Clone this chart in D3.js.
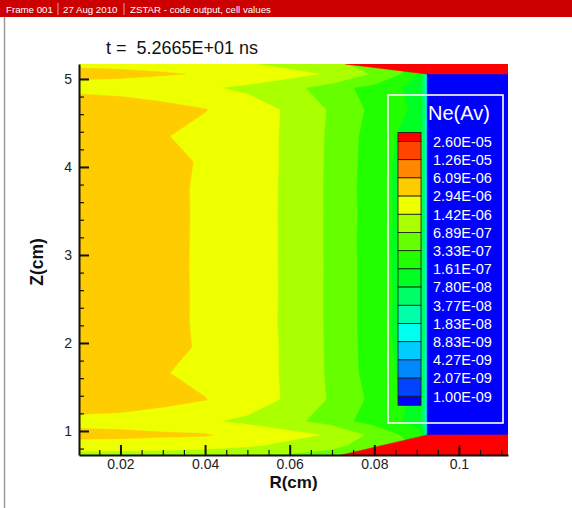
<!DOCTYPE html>
<html>
<head>
<meta charset="utf-8">
<script src="https://cdn.jsdelivr.net/npm/d3@7"></script>
<style>
  html, body { margin: 0; padding: 0; background: #fff; }
  svg { display: block; font-family: "Liberation Sans", Arial, Helvetica, sans-serif; }
</style>
</head>
<body>
<svg id="chart" width="572" height="508"></svg>
<script>
// ---- mesh nodes (cm) ----
const rNodes = [0.0102, 0.02, 0.03, 0.04, 0.05, 0.06, 0.07, 0.08, 0.0905, 0.0925];
// z rows, listed from the top of the domain downwards
const zNodes = [5.17, 5.057, 4.9, 4.65, 4.35, 4.06, 3.75, 3.45, 3.15, 2.85,
                2.55, 2.25, 1.95, 1.66, 1.36, 1.11, 0.955, 0.84, 0.727];

// electron density Ne (units of 1e-6), one row per zNodes entry, one column per rNodes entry
const neRows = [
  [2.72, 2.60, 2.30, 1.90, 1.50, 1.10, 0.80, 0.50, 0.30, 0.20],
  [3.27, 3.25, 3.10, 2.80, 2.20, 1.70, 1.30, 0.60, 0.15, 0.0005],
  [2.50, 2.30, 1.95, 1.55, 1.20, 0.85, 0.42, 0.25, 0.11, 0.0005],
  [4.07, 3.90, 3.50, 3.00, 2.00, 1.25, 0.60, 0.25, 0.13, 0.0005],
  [4.30, 4.00, 3.05, 2.40, 1.90, 1.25, 0.56, 0.20, 0.12, 0.0005],
  [4.40, 4.20, 3.30, 2.80, 1.90, 1.25, 0.55, 0.19, 0.12, 0.0005],
  [4.50, 4.30, 3.60, 2.55, 1.88, 1.24, 0.54, 0.186, 0.12, 0.0005],
  [4.50, 4.30, 3.62, 2.56, 1.92, 1.22, 0.55, 0.19, 0.12, 0.0005],
  [4.50, 4.30, 3.60, 2.55, 1.90, 1.23, 0.54, 0.185, 0.12, 0.0005],
  [4.50, 4.30, 3.58, 2.55, 1.88, 1.24, 0.55, 0.186, 0.12, 0.0005],
  [4.50, 4.30, 3.60, 2.56, 1.92, 1.23, 0.54, 0.19, 0.12, 0.0005],
  [4.50, 4.30, 3.60, 2.55, 1.90, 1.22, 0.55, 0.186, 0.12, 0.0005],
  [4.40, 4.20, 3.35, 2.75, 1.90, 1.25, 0.55, 0.19, 0.12, 0.0005],
  [4.30, 4.00, 3.05, 2.40, 1.90, 1.25, 0.56, 0.20, 0.12, 0.0005],
  [4.07, 3.90, 3.50, 3.00, 2.00, 1.25, 0.60, 0.25, 0.13, 0.0005],
  [2.44, 2.30, 1.95, 1.55, 1.20, 0.85, 0.42, 0.25, 0.11, 0.0005],
  [3.40, 3.35, 3.20, 3.10, 2.20, 1.70, 1.30, 0.50, 0.20, 0.0005],
  [2.30, 2.25, 2.10, 1.90, 1.60, 1.20, 0.80, 0.50, 0.30, 0.20],
  [0.90, 0.88, 0.85, 0.75, 0.68, 0.62, 0.55, 0.50, 0.40, 0.30]
];
const neUnit = 1e-6;

// contour levels of Ne(Av)
const levels = [1.00e-9, 2.07e-9, 4.27e-9, 8.83e-9, 1.83e-8, 3.77e-8, 7.80e-8,
                1.61e-7, 3.33e-7, 6.89e-7, 1.42e-6, 2.94e-6, 6.09e-6, 1.26e-5, 2.60e-5];

// vacuum gap and electrode zones: outline in (R, Z) and the cell value
const vacuumZone = { value: 5e-10, outline: [[0.0925, 0.955], [0.1116, 0.955], [0.1116, 5.057], [0.0925, 5.057]] };
const electrodeZones = [
  { value: 3e-5, outline: [[0.0731, 5.17], [0.1116, 5.17], [0.1116, 5.057], [0.0922, 5.057]] },
  { value: 3e-5, outline: [[0.0722, 0.727], [0.1116, 0.727], [0.1116, 0.955], [0.0925, 0.955]] }
];

const rTicks = [0.02, 0.04, 0.06, 0.08, 0.1];
const zTicks = [1, 2, 3, 4, 5];
const rDomain = [0.0102, 0.1116];
const zDomain = [0.727, 5.17];

const headerParts = [
  { text: "Frame 001", x: 6 },
  { text: "27 Aug 2010", x: 63 },
  { text: "ZSTAR - code output, cell values", x: 130 }
];
const titleText = "t =  5.2665E+01 ns";
const legendTitle = "Ne(Av)";

// small-rainbow palette, one colour per band (lowest band first)
const bandColors = ["#0000ff", "#0044ff", "#0088ff", "#00ccff", "#00ffee", "#00ffaa",
                    "#00ff66", "#00ff22", "#22ff00", "#66ff00", "#aaff00", "#eeff00",
                    "#ffcc00", "#ff8800", "#ff4400", "#ff0000"];

// ---- layout ----
const plot = { left: 79, right: 508, top: 64, bottom: 455 };
const svg = d3.select("#chart");

const x = d3.scaleLinear().domain(rDomain).range([plot.left, plot.right]);
const y = d3.scaleLinear().domain(zDomain).range([plot.bottom, plot.top]);
const color = d3.scaleThreshold().domain(levels).range(bandColors);

// header strip
svg.append("rect").attr("x", 0).attr("y", 0).attr("width", 572).attr("height", 17).attr("fill", "#cc0000");
svg.selectAll("text.hdr").data(headerParts).join("text")
  .attr("class", "hdr")
  .attr("x", d => d.x).attr("y", 12.5)
  .attr("fill", "#fff").attr("font-size", 9.7)
  .text(d => d.text);
svg.selectAll("line.sep").data([58, 124]).join("line")
  .attr("class", "sep")
  .attr("x1", d => d).attr("x2", d => d).attr("y1", 3).attr("y2", 15)
  .attr("stroke", "#f4c0c0").attr("stroke-width", 0.8);
svg.append("line").attr("x1", 4.5).attr("x2", 4.5).attr("y1", 17).attr("y2", 508)
  .attr("stroke", "#9a9a9a").attr("stroke-width", 1.5);

// time label
svg.append("text").attr("x", 106).attr("y", 54)
  .attr("font-size", 18).attr("fill", "#111")
  .style("white-space", "pre")
  .text(titleText);

// ---- contour flood ----
svg.append("clipPath").attr("id", "plotClip").append("rect")
  .attr("x", plot.left).attr("y", plot.top)
  .attr("width", plot.right - plot.left).attr("height", plot.bottom - plot.top);

const gField = svg.append("g").attr("clip-path", "url(#plotClip)");

const nCols = rNodes.length, nRows = zNodes.length;
const values = [];
neRows.forEach(row => row.forEach(v => values.push(v * neUnit)));

// grid index -> physical coordinate (node k sits at index k + 0.5)
const colScale = d3.scaleLinear().domain(rNodes.map((_, i) => i + 0.5)).range(rNodes).clamp(true);
const rowScale = d3.scaleLinear().domain(zNodes.map((_, i) => i + 0.5)).range(zNodes).clamp(true);

const gridProjection = d3.geoTransform({
  point(px, py) { this.stream.point(x(colScale(px)), y(rowScale(py))); }
});
const gridPath = d3.geoPath(gridProjection);

const bands = d3.contours().size([nCols, nRows]).thresholds([0, ...levels])(values);
gField.selectAll("path.band").data(bands).join("path")
  .attr("class", "band")
  .attr("d", gridPath)
  .attr("fill", d => d.value === 0 ? bandColors[0] : color(d.value))
  .attr("stroke", d => d.value === 0 ? bandColors[0] : color(d.value))
  .attr("stroke-width", 0.4);

const outlinePath = pts => d3.line().x(p => x(p[0])).y(p => y(p[1]))(pts) + "Z";
gField.selectAll("path.zone").data([vacuumZone, ...electrodeZones]).join("path")
  .attr("class", "zone")
  .attr("d", d => outlinePath(d.outline))
  .attr("fill", d => color(d.value))
  .attr("stroke", d => color(d.value))
  .attr("stroke-width", 0.5);

// ---- axes ----
const axisColor = "#111";
const xMinor = d3.range(0.015, rDomain[1], 0.005).filter(v => Math.abs(v * 50 - Math.round(v * 50)) > 1e-6);
const zMinor = d3.range(0.8, zDomain[1], 0.2).filter(v => Math.abs(v - Math.round(v)) > 1e-6);

const gxMinor = svg.append("g").attr("transform", `translate(0,${plot.bottom})`)
  .call(d3.axisBottom(x).tickValues(xMinor).tickSize(-5).tickFormat(""));
const gyMinor = svg.append("g").attr("transform", `translate(${plot.left},0)`)
  .call(d3.axisLeft(y).tickValues(zMinor).tickSize(-5).tickFormat(""));
[gxMinor, gyMinor].forEach(g => {
  g.select(".domain").remove();
  g.selectAll("line").attr("stroke", axisColor).attr("stroke-width", 1.2);
});

const gx = svg.append("g").attr("transform", `translate(0,${plot.bottom})`)
  .call(d3.axisBottom(x).tickValues(rTicks).tickSize(-10).tickSizeOuter(0).tickPadding(5)
        .tickFormat(d => String(d)));
const gy = svg.append("g").attr("transform", `translate(${plot.left},0)`)
  .call(d3.axisLeft(y).tickValues(zTicks).tickSize(-10).tickSizeOuter(0).tickPadding(7)
        .tickFormat(d => String(d)));
[gx, gy].forEach(g => {
  g.select(".domain").attr("stroke", axisColor).attr("stroke-width", 2);
  g.selectAll(".tick line").attr("stroke", axisColor).attr("stroke-width", 2);
  g.selectAll(".tick text").attr("fill", "#222").attr("font-size", 14)
    .attr("font-family", "'Liberation Sans', Arial, sans-serif");
});
gx.selectAll(".tick text").attr("dy", null).attr("y", 14);

svg.append("text").attr("x", (plot.left + plot.right) / 2).attr("y", 488)
  .attr("text-anchor", "middle").attr("font-size", 17).attr("font-weight", "bold").attr("fill", "#111")
  .text("R(cm)");
svg.append("text").attr("transform", "translate(43,262) rotate(-90)")
  .attr("text-anchor", "middle").attr("font-size", 17.5).attr("font-weight", "bold").attr("fill", "#111")
  .text("Z(cm)");

// ---- legend ----
const legend = svg.append("g");
legend.append("rect").attr("x", 388).attr("y", 95).attr("width", 115).attr("height", 328)
  .attr("fill", "none").attr("stroke", "#fff").attr("stroke-width", 1.6);
legend.append("text").attr("x", 428).attr("y", 120).attr("font-size", 20).attr("fill", "#fff")
  .text(legendTitle);

const levelsDesc = levels.slice().reverse();
const ly = d3.scaleLinear().domain([0, levelsDesc.length - 1]).range([141.5, 396.3]);
const capH = 9;
// boxes: top band above the highest level, bottom band below the lowest one
const boxes = d3.range(bandColors.length).map(i => {
  const band = bandColors.length - 1 - i;
  const y0 = i === 0 ? ly(0) - capH : ly(i - 1);
  const y1 = i === bandColors.length - 1 ? ly(levelsDesc.length - 1) + capH : ly(i);
  return { band, y0, y1 };
});
legend.selectAll("rect.sw").data(boxes).join("rect")
  .attr("class", "sw")
  .attr("x", 398).attr("width", 23)
  .attr("y", d => d.y0).attr("height", d => d.y1 - d.y0)
  .attr("fill", d => bandColors[d.band])
  .attr("stroke", "#1a1a1a").attr("stroke-width", 0.8);

const sci = v => {
  const [m, e] = v.toExponential(2).split("e");
  const n = +e;
  return m + "E" + (n < 0 ? "-" : "+") + String(Math.abs(n)).padStart(2, "0");
};
legend.selectAll("text.lab").data(levelsDesc).join("text")
  .attr("class", "lab")
  .attr("x", 433).attr("y", (d, i) => ly(i))
  .attr("dy", "0.36em")
  .attr("font-size", 14.5).attr("fill", "#fff")
  .text(sci);
</script>
</body>
</html>
